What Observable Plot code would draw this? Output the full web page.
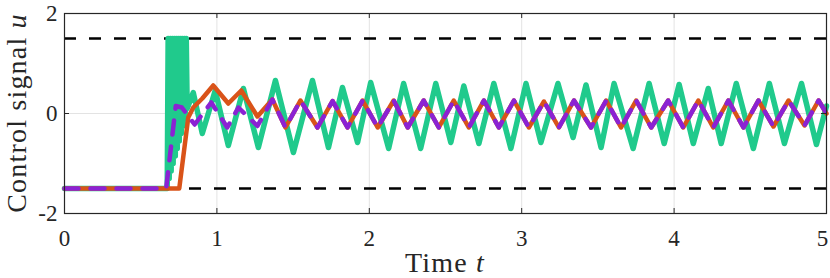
<!DOCTYPE html>
<html><head><meta charset="utf-8">
<script src="https://cdn.jsdelivr.net/npm/d3@7"></script>
<script src="https://cdn.jsdelivr.net/npm/@observablehq/plot@0.6"></script>
<style>
html,body{margin:0;padding:0;background:#fff;}
</style>
</head><body><div id="chart"></div>
<script>
// ---- data ----
const xTicks = [0, 1, 2, 3, 4, 5];
const yTicks = [-2, 0, 2];
const gridX = [1, 2, 3, 4];
const gridY = [0];
const limits = [-1.5, 1.5];

const greenT = [0, 0.674, 0.680, 0.687, 0.694, 0.700, 0.707, 0.713, 0.720, 0.727, 0.733, 0.740, 0.746, 0.753, 0.759, 0.766, 0.772, 0.779, 0.786, 0.792, 0.799, 0.805,
  0.845, 0.904, 0.989, 1.075, 1.174, 1.272, 1.384, 1.502, 1.627, 1.732, 1.824, 1.923, 2.009, 2.127, 2.225, 2.337, 2.436, 2.535,
  2.620, 2.719, 2.817, 2.929, 3.028, 3.126, 3.238, 3.337, 3.422, 3.521, 3.606, 3.731, 3.836, 3.935, 4.033, 4.126, 4.224, 4.309,
  4.408, 4.520, 4.625, 4.724, 4.836, 4.934, 5.0];
const greenU = [-1.5, -1.5, 1.5, -1.3, 1.5, -1.15, 1.5, -1.0, 1.5, -0.85, 1.5, -0.7, 1.5, -0.55, 1.5, -0.4, 1.5, -0.25, 1.5, -0.1, 1.5, 0.1,
  0.42, -0.40, 0.46, -0.64, 0.50, -0.68, 0.66, -0.78, 0.66, -0.68, 0.52, -0.58, 0.62, -0.70, 0.60, -0.70, 0.60, -0.58,
  0.55, -0.60, 0.60, -0.70, 0.60, -0.58, 0.60, -0.48, 0.57, -0.68, 0.60, -0.70, 0.60, -0.60, 0.58, -0.60, 0.50, -0.60,
  0.60, -0.70, 0.60, -0.60, 0.60, -0.62, 0.15];

const steadyT = [1.364, 1.450, 1.548, 1.660, 1.759, 1.857, 1.956, 2.055, 2.160, 2.252, 2.357, 2.456, 2.554, 2.653, 2.752, 2.850,
  2.949, 3.047, 3.146, 3.244, 3.343, 3.455, 3.554, 3.652, 3.751, 3.850, 3.961, 4.060, 4.159, 4.257, 4.356, 4.455, 4.553, 4.652,
  4.751, 4.856, 4.948, 5.0];
const steadyU = [0.28, -0.28, 0.26, -0.28, 0.25, -0.28, 0.26, -0.28, 0.26, -0.28, 0.26, -0.28, 0.26, -0.28, 0.26, -0.28,
  0.26, -0.28, 0.24, -0.28, 0.26, -0.28, 0.26, -0.28, 0.26, -0.28, 0.26, -0.28, 0.26, -0.28, 0.26, -0.28, 0.26, -0.26,
  0.26, -0.24, 0.26, 0.0];

const orangeT = [0, 0.753, 0.812, 0.845, 0.904, 0.976, 1.075, 1.160, 1.266, ...steadyT];
const orangeU = [-1.5, -1.5, -0.08, 0.12, 0.30, 0.56, 0.20, 0.46, -0.06, ...steadyU];

const purpleT = [0, 0.667, 0.730, 0.770, 0.854, 0.963, 1.068, 1.141, 1.266, ...steadyT];
const purpleU = [-1.5, -1.5, 0.15, 0.12, -0.22, 0.22, -0.28, 0.12, -0.25, ...steadyU];

const rows = (T, U) => T.map((t, i) => ({t, u: U[i]}));
const green = rows(greenT, greenU);
const orange = rows(orangeT, orangeU);
const purple = rows(purpleT, purpleU);

const ink = "#262626";
const tickLenX = 0.1;            // in y units (inward ticks)
const tickLenY = 5 * 5 / 762;    // in x units

const chart = Plot.plot({
  width: 830, height: 278,
  marginLeft: 64, marginRight: 4, marginTop: 13, marginBottom: 65,
  x: {domain: [0, 5]},
  y: {domain: [-2, 2]},
  style: {fontFamily: "'Liberation Serif', serif", fontSize: "23px", color: ink, background: "white"},
  marks: [
    Plot.ruleX(gridX, {stroke: "#e3e3e3", strokeWidth: 1}),
    Plot.ruleY(gridY, {stroke: "#e3e3e3", strokeWidth: 1}),
    Plot.ruleY(limits, {stroke: "black", strokeWidth: 2.6, strokeDasharray: "12,13"}),
    Plot.line(green, {x: "t", y: "u", stroke: "#20CA8C", strokeWidth: 5.5, strokeLinejoin: "round", strokeLinecap: "round"}),
    Plot.line(orange, {x: "t", y: "u", stroke: "#D95319", strokeWidth: 4.5, strokeLinejoin: "round", strokeLinecap: "round"}),
    Plot.line(purple, {x: "t", y: "u", stroke: "#8B22D3", strokeWidth: 4.5, strokeDasharray: "14,12", strokeLinejoin: "round"}),
    Plot.ruleX(xTicks, {y1: -2, y2: -2 + tickLenX, stroke: ink, strokeWidth: 1}),
    Plot.ruleX(xTicks, {y1: 2, y2: 2 - tickLenX, stroke: ink, strokeWidth: 1}),
    Plot.ruleY(yTicks, {x1: 0, x2: tickLenY, stroke: ink, strokeWidth: 1}),
    Plot.ruleY(yTicks, {x1: 5, x2: 5 - tickLenY, stroke: ink, strokeWidth: 1}),
    Plot.frame({stroke: ink, strokeWidth: 1.2}),
    Plot.axisX(xTicks.slice(0, -1), {tickSize: 0, tickPadding: 16, label: null, tickFormat: d => String(d)}),
    Plot.axisX(xTicks.slice(-1), {tickSize: 0, tickPadding: 16, label: null, dx: -4, tickFormat: d => String(d)}),
    Plot.axisY({ticks: yTicks, tickSize: 0, tickPadding: 7, label: null, tickFormat: d => String(d)})
  ]
});
document.getElementById("chart").appendChild(chart);

// axis titles with italic symbols
const svg = d3.select(chart);
const xl = svg.append("text").attr("x", 445).attr("y", 272).attr("text-anchor", "middle")
  .attr("font-size", 28).attr("letter-spacing", "1.2px").attr("fill", ink).attr("font-family", "'Liberation Serif', serif");
xl.append("tspan").text("Time ");
xl.append("tspan").attr("font-style", "italic").text("t");
const yl = svg.append("text").attr("transform", "translate(26,113) rotate(-90)").attr("text-anchor", "middle")
  .attr("font-size", 28).attr("letter-spacing", "1.2px").attr("fill", ink).attr("font-family", "'Liberation Serif', serif");
yl.append("tspan").text("Control signal ");
yl.append("tspan").attr("font-style", "italic").text("u");
</script>
</body></html>
